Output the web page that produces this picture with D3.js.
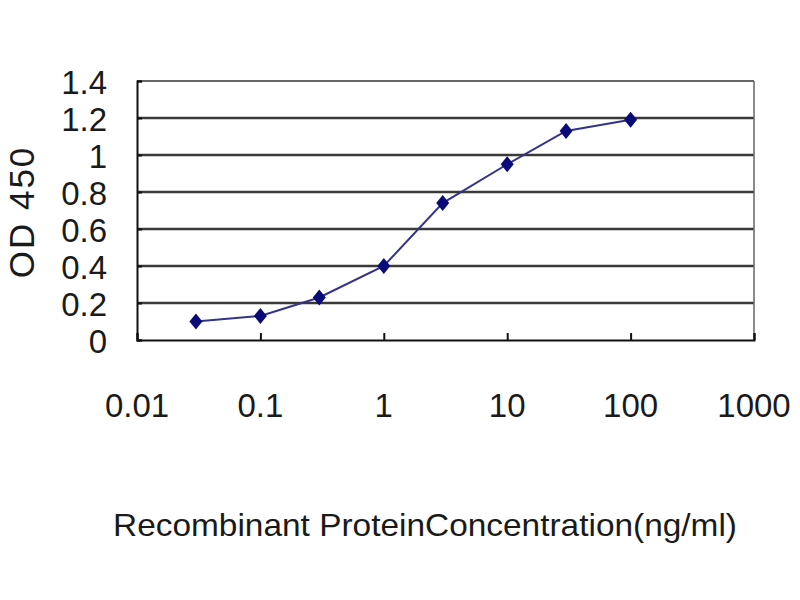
<!DOCTYPE html>
<html><head><meta charset="utf-8">
<script src="https://cdn.jsdelivr.net/npm/d3@7"></script>
<style>body{margin:0;background:#fff}svg{display:block}text{font-family:"Liberation Sans",Arial,sans-serif;fill:#1a1a1a}</style>
</head><body><svg id="c" width="800" height="600"></svg>
<script>
const concentrations = [0.03, 0.1, 0.3, 1, 3, 10, 30, 100];
const odValues = [0.10, 0.13, 0.23, 0.40, 0.74, 0.95, 1.13, 1.19];
const xTicks = [0.01, 0.1, 1, 10, 100, 1000];
const xTickLabels = ["0.01", "0.1", "1", "10", "100", "1000"];
const yTicks = [0, 0.2, 0.4, 0.6, 0.8, 1, 1.2, 1.4];
const yTickLabels = ["0", "0.2", "0.4", "0.6", "0.8", "1", "1.2", "1.4"];
const xTitle = "Recombinant ProteinConcentration(ng/ml)";
const yTitle = "OD 450";

const svg = d3.select("#c");
const L = 137, R = 754, T = 81, B = 340;
const x = d3.scaleLog().domain([0.01, 1000]).range([L, R]);
const y = d3.scaleLinear().domain([0, 1.4]).range([B, T]);

// gridlines
svg.append("g").selectAll("line").data(yTicks.filter(v => v > 0 && v < 1.4)).join("line")
  .attr("x1", L).attr("x2", R).attr("y1", d => y(d)).attr("y2", d => y(d))
  .attr("stroke", "#3a3a3a").attr("stroke-width", 2.6);

// frame
svg.append("line").attr("x1", L).attr("x2", R).attr("y1", T).attr("y2", T).attr("stroke", "#666").attr("stroke-width", 2);
svg.append("line").attr("x1", R).attr("x2", R).attr("y1", T).attr("y2", B).attr("stroke", "#666").attr("stroke-width", 1.5);

// axes with inside ticks
const yAxis = d3.axisLeft(y).tickValues(yTicks).tickSize(-5).tickFormat("");
const gy = svg.append("g").attr("transform", `translate(${L},0)`).call(yAxis);
gy.selectAll("path,line").attr("stroke", "#111").attr("stroke-width", 2);
const xAxis = d3.axisBottom(x).tickValues(xTicks).tickSize(-7).tickFormat("");
const gx = svg.append("g").attr("transform", `translate(0,${B})`).call(xAxis);
gx.selectAll("path,line").attr("stroke", "#111").attr("stroke-width", 2);

// tick labels
svg.append("g").selectAll("text").data(yTicks).join("text")
  .attr("x", 107).attr("y", d => y(d)).attr("dy", "0.38em")
  .attr("text-anchor", "end").attr("font-size", 33)
  .text((d, i) => yTickLabels[i]);
svg.append("g").selectAll("text").data(xTicks).join("text")
  .attr("x", d => x(d)).attr("y", 404).attr("dy", "0.38em")
  .attr("text-anchor", "middle").attr("font-size", 33)
  .text((d, i) => xTickLabels[i]);

// titles
svg.append("text").attr("transform", "translate(34,212) rotate(-90)")
  .attr("text-anchor", "middle").attr("font-size", 35).attr("letter-spacing", 2).text(yTitle);
svg.append("text").attr("x", 425).attr("y", 536).attr("text-anchor", "middle")
  .attr("font-size", 32).attr("textLength", 624).attr("lengthAdjust", "spacingAndGlyphs").text(xTitle);

// series
const pts = concentrations.map((c, i) => [c, odValues[i]]);
svg.append("path").datum(pts)
  .attr("d", d3.line().x(d => x(d[0])).y(d => y(d[1])))
  .attr("fill", "none").attr("stroke", "#33338a").attr("stroke-width", 2);
svg.append("g").selectAll("path").data(pts).join("path")
  .attr("transform", d => `translate(${x(d[0])},${y(d[1])})`)
  .attr("d", "M0,-8L6.5,0L0,8L-6.5,0Z").attr("fill", "#0a0a78");
</script></body></html>
